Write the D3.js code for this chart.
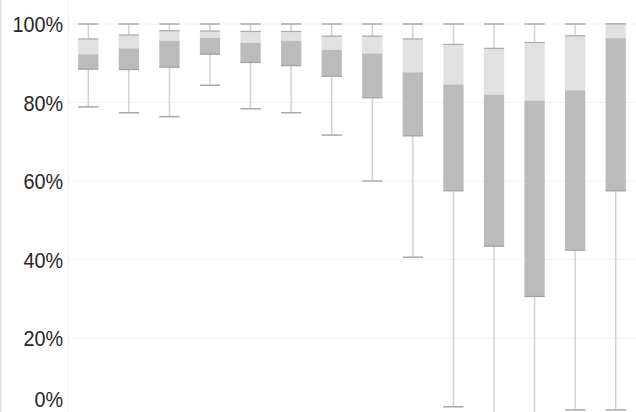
<!DOCTYPE html>
<html>
<head>
<meta charset="utf-8">
<script src="https://cdn.jsdelivr.net/npm/d3@7"></script>
<style>
  html, body { margin: 0; padding: 0; background: #fff; }
  svg { display: block; }
  .tick text { font-family: "Liberation Sans", Arial, sans-serif; font-size: 22px; fill: #262626; }
</style>
</head>
<body>
<svg id="chart" width="636" height="412"></svg>
<script>
// Groups along the x axis (unlabelled)
const categories = ["1","2","3","4","5","6","7","8","9","10","11","12","13","14"];
// Five-number summaries, in percent
const minVals    = [78.9, 77.4, 76.4, 84.4, 78.4, 77.4, 71.7, 60.0, 40.6,  2.5,  0.0,  0.0,  1.7,  1.7];
const q1Vals     = [88.5, 88.4, 89.0, 92.3, 90.2, 89.4, 86.7, 81.2, 71.5, 57.5, 43.4, 30.6, 42.4, 57.5];
const medianVals = [92.3, 93.8, 95.7, 96.5, 95.2, 95.7, 93.4, 92.5, 87.7, 84.6, 82.0, 80.5, 83.1, 96.4];
const q3Vals     = [96.2, 97.2, 98.3, 98.2, 98.1, 98.1, 96.9, 96.9, 96.2, 94.8, 93.8, 95.3, 97.0, 100.0];
const maxVals    = [100, 100, 100, 100, 100, 100, 100, 100, 100, 100, 100, 100, 100, 100];
const yTicks     = [0, 20, 40, 60, 80, 100];

const W = 636, H = 412;
const margin = { left: 68, right: 0, top: 24 };
const plotBottom = 416.6;
const labelSquash = 0.9;   // slightly condensed tick labels

const svg = d3.select("#chart");

const x = d3.scaleBand().domain(categories).range([margin.left, W - margin.right]).paddingInner(0.5).paddingOuter(0.25);
const y = d3.scaleLinear().domain([0, 100]).range([plotBottom, margin.top]);

// faint frame line on the far left
svg.append("line").attr("x1", 0.75).attr("x2", 0.75).attr("y1", 0).attr("y2", H)
  .attr("stroke", "#e2e2e2").attr("stroke-width", 1.5);

// gridlines
svg.append("g").selectAll("line").data(yTicks).join("line")
  .attr("x1", margin.left).attr("x2", W)
  .attr("y1", d => y(d)).attr("y2", d => y(d))
  .attr("stroke", "#f2f2f2").attr("stroke-width", 1);

// axis line
svg.append("line").attr("x1", margin.left + 0.5).attr("x2", margin.left + 0.5)
  .attr("y1", 0).attr("y2", H).attr("stroke", "#f0f0f0");

// y axis labels
const axis = svg.append("g").attr("transform", `translate(${margin.left},0)`)
  .call(d3.axisLeft(y).tickValues(yTicks).tickFormat(d => d + "%").tickSize(0).tickPadding(5));
axis.select(".domain").remove();
axis.selectAll(".tick text")
  .attr("dy", "0.38em")
  .attr("x", -5 / labelSquash)
  .attr("transform", `scale(${labelSquash},1)`);
// keep the lowest label inside the visible area
axis.selectAll(".tick").attr("transform", d => `translate(0,${Math.min(y(d), H - 13)})`);

const data = categories.map((c, i) => ({
  c, min: minVals[i], q1: q1Vals[i], med: medianVals[i], q3: q3Vals[i], max: maxVals[i]
}));

const bw = x.bandwidth();
const g = svg.append("g");
const box = g.selectAll("g.box").data(data).join("g").attr("class", "box")
  .attr("transform", d => `translate(${x(d.c)},0)`);

// whisker stems
box.append("line").attr("x1", bw / 2).attr("x2", bw / 2)
  .attr("y1", d => y(d.max)).attr("y2", d => y(d.q3))
  .attr("stroke", "#d2d2d2").attr("stroke-width", 1.5);
box.append("line").attr("x1", bw / 2).attr("x2", bw / 2)
  .attr("y1", d => y(d.q1)).attr("y2", d => y(d.min))
  .attr("stroke", "#d2d2d2").attr("stroke-width", 1.5);

// whisker caps
box.append("line").attr("x1", 0).attr("x2", bw)
  .attr("y1", d => y(d.max)).attr("y2", d => y(d.max))
  .attr("stroke", "#a9a9a9").attr("stroke-width", 1.5);
box.append("line").attr("x1", 0).attr("x2", bw)
  .attr("y1", d => y(d.min)).attr("y2", d => y(d.min))
  .attr("stroke", "#a9a9a9").attr("stroke-width", 1.5);

// upper half of box (median to Q3)
box.append("rect").attr("x", 0).attr("width", bw)
  .attr("y", d => y(d.q3)).attr("height", d => y(d.med) - y(d.q3))
  .attr("fill", "#e1e1e1");
// lower half of box (Q1 to median)
box.append("rect").attr("x", 0).attr("width", bw)
  .attr("y", d => y(d.med)).attr("height", d => y(d.q1) - y(d.med))
  .attr("fill", "#bbbbbb");

// box top and bottom edges
box.append("line").attr("x1", 0).attr("x2", bw)
  .attr("y1", d => y(d.q3)).attr("y2", d => y(d.q3))
  .attr("stroke", "#a9a9a9").attr("stroke-width", 1.2);
box.append("line").attr("x1", 0).attr("x2", bw)
  .attr("y1", d => y(d.q1)).attr("y2", d => y(d.q1))
  .attr("stroke", "#a0a0a0").attr("stroke-width", 1.2);
</script>
</body>
</html>
